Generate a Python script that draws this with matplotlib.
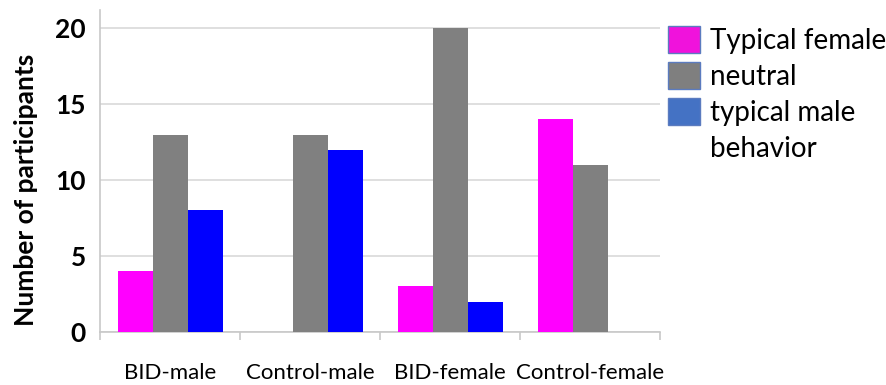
import matplotlib
matplotlib.use("Agg")
import matplotlib.pyplot as plt
import numpy as np
from matplotlib.patches import Patch

# datos
categories = ["BID-male", "Control-male", "BID-female", "Control-female"]
typical_female = [4, 0, 3, 14]
neutral = [13, 13, 20, 11]
typical_male = [8, 12, 2, 0]
series_labels = ["Typical female", "neutral", "typical male", "behavior"]

BAR_COLORS = ["#ff00ff", "#808080", "#0000ff"]
LEG_COLORS = ["#f012dc", "#7f7f7f", "#4472c4"]
LEG_EDGE = "#5b7bbf"

plt.rcParams["font.family"] = ["Lato", "DejaVu Sans"]

fig = plt.figure(figsize=(8.87, 3.85), dpi=100)
ax = fig.add_axes([100 / 887, 1 - 332 / 385, 560 / 887, 322 / 385])

x = np.arange(len(categories))
w = 0.25
for i, vals in enumerate([typical_female, neutral, typical_male]):
    ax.bar(x + (i - 1) * w, vals, width=w, color=BAR_COLORS[i], zorder=3)

ax.set_xlim(-0.5, len(categories) - 0.5)
ax.set_ylim(0, 21.2)
ax.set_yticks([0, 5, 10, 15, 20])
ax.yaxis.grid(True, color="#d9d9d9", linewidth=1.2, zorder=0)
ax.tick_params(axis="y", length=0, pad=10, labelsize=19)
for t in ax.get_yticklabels():
    t.set_fontweight("bold")
ax.set_ylabel("Number of participants", fontsize=19, fontweight="bold")
ax.yaxis.set_label_coords(-0.11, 0.44)

ax.set_xticks(x)
ax.set_xticklabels(categories, fontsize=16)
ax.tick_params(axis="x", which="major", length=0, pad=22)
ax.set_xticks(np.arange(-0.5, len(categories)), minor=True)
ax.tick_params(axis="x", which="minor", length=6, width=1.2, color="#c8c8c8", direction="out")

for s in ["top", "right"]:
    ax.spines[s].set_visible(False)
for s in ["left", "bottom"]:
    ax.spines[s].set_color("#c8c8c8")
    ax.spines[s].set_linewidth(1.2)

# la última entrada es la 2ª línea de "typical male behavior", sin cuadro
handles = [Patch(facecolor=c, edgecolor=LEG_EDGE, linewidth=1) for c in LEG_COLORS]
handles.append(Patch(facecolor="none", edgecolor="none"))
fig.legend(handles, series_labels, loc="upper left", bbox_to_anchor=(668 / 887, 1 - 26 / 385),
           frameon=False, fontsize=20, handlelength=1.15, handleheight=1.1,
           handletextpad=0.35, labelspacing=0.3, borderpad=0, borderaxespad=0)

fig.savefig("out.png", dpi=100)
